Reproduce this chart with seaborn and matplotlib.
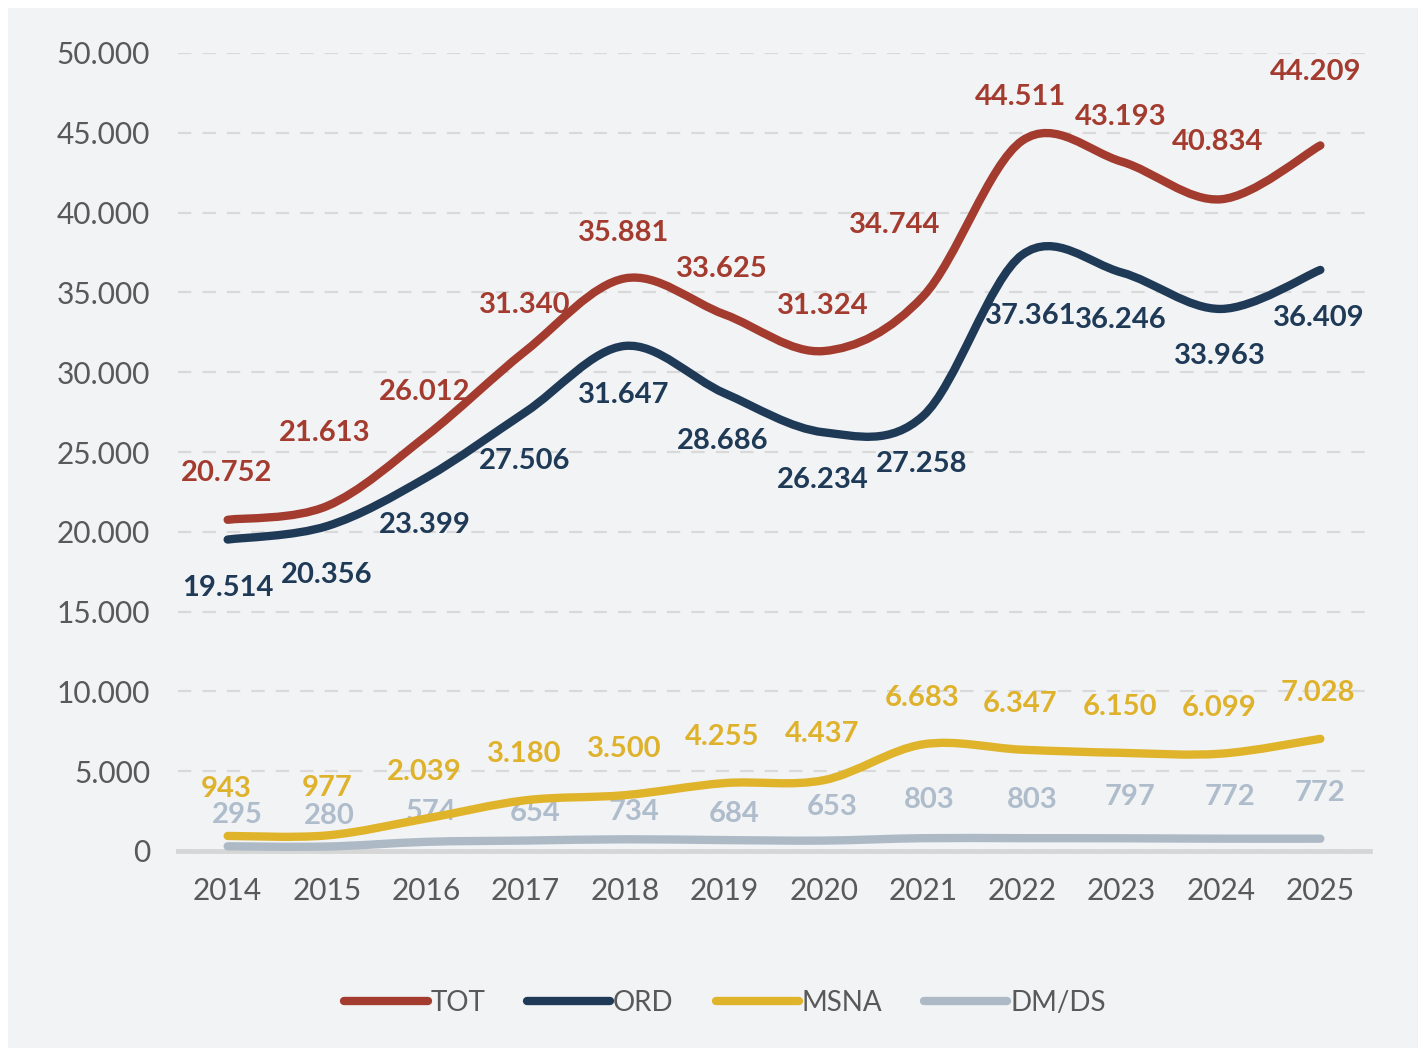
import matplotlib
matplotlib.use("Agg")
import matplotlib.pyplot as plt
import seaborn as sns
from matplotlib.path import Path
from matplotlib.patches import PathPatch, Rectangle
from matplotlib.lines import Line2D

# dati
anni = ['2014', '2015', '2016', '2017', '2018', '2019', '2020', '2021', '2022', '2023', '2024', '2025']
tot = [20752, 21613, 26012, 31340, 35881, 33625, 31324, 34744, 44511, 43193, 40834, 44209]
ord_ = [19514, 20356, 23399, 27506, 31647, 28686, 26234, 27258, 37361, 36246, 33963, 36409]
msna = [943, 977, 2039, 3180, 3500, 4255, 4437, 6683, 6347, 6150, 6099, 7028]
dmds = [295, 280, 574, 654, 734, 684, 653, 803, 803, 797, 772, 772]

serie = ['TOT', 'ORD', 'MSNA', 'DM/DS']
valori = [tot, ord_, msna, dmds]
colori = ['#a33b2f', '#1f3a57', '#e0b42a', '#adbac6']
colori_etichette = ['#a33b2f', '#1f3a57', '#dfb22c', '#aebccb']

# posizione etichette in pixel rispetto al punto (positivo = sopra / a destra)
dy_etichette = [
    [47, 73, 44, 46, 45, 45, 45, 71, 44, 45, 57, 73],
    [-48, -49, -47, -49, -49, -48, -48, -48, -61, -47, -47, -48],
    [47, 47, 46, 46, 46, 46, 46, 46, 46, 46, 46, 46],
    [31, 31, 30, 28, 27, 26, 34, 38, 38, 41, 42, 46],
]
dx_etichette = [
    [-1, -2, -2, -1, -1, -2, -1, -28, -2, -1, -3, -5],
    [0, 0, -2, -1, -1, -2, -1, -1, 8, -1, -1, -2],
    [-1, 0, -2, -1, -1, -2, -2, -1, -2, -2, -2, -2],
    [10, 2, 5, 9, 9, 10, 9, 6, 10, 8, 9, 0],
]

sns.set_theme(style="white")
plt.rcParams['font.family'] = ['Lato', 'DejaVu Sans']

fig = plt.figure(figsize=(14.2, 10.52), dpi=100)
fig.patch.set_facecolor('white')
fig.patches.append(Rectangle((8 / 1420, 4 / 1052), 1410 / 1420, 1040 / 1052,
                             transform=fig.transFigure, facecolor='#f2f3f5',
                             edgecolor='none', zorder=-1))
ax = fig.add_axes([178 / 1420, 201 / 1052, 1192 / 1420, 798 / 1052])
ax.set_facecolor('#f2f3f5')


def curva(xs, ys):
    # curva liscia tipo Excel (Catmull-Rom -> Bezier)
    n = len(xs)
    verts = [(xs[0], ys[0])]
    codes = [Path.MOVETO]
    for i in range(n - 1):
        a = max(i - 1, 0)
        b = min(i + 2, n - 1)
        c1 = (xs[i] + (xs[i + 1] - xs[a]) / 6, ys[i] + (ys[i + 1] - ys[a]) / 6)
        c2 = (xs[i + 1] - (xs[b] - xs[i]) / 6, ys[i + 1] - (ys[b] - ys[i]) / 6)
        verts += [c1, c2, (xs[i + 1], ys[i + 1])]
        codes += [Path.CURVE4] * 3
    return Path(verts, codes)


x = list(range(len(anni)))
for k, (nome, vals, col, col_e) in enumerate(zip(serie, valori, colori, colori_etichette)):
    ax.add_patch(PathPatch(curva(x, vals), facecolor='none', edgecolor=col,
                           lw=6, capstyle='round', joinstyle='round', zorder=3))
    for i, (xi, v) in enumerate(zip(x, vals)):
        etichetta = f"{v:,}".replace(",", ".")
        ax.annotate(etichetta, (xi, v),
                    xytext=(dx_etichette[k][i] * 0.72, dy_etichette[k][i] * 0.72),
                    textcoords='offset points', ha='center', va='center',
                    fontsize=21, fontweight='bold', color=col_e, zorder=2)

ax.set_xlim(-0.5, len(anni) - 0.5)
ax.set_ylim(0, 50000)
ax.set_xticks(x)
ax.set_xticklabels(anni)
ax.set_yticks(range(0, 50001, 5000))
ax.set_yticklabels([f"{v:,}".replace(",", ".") for v in range(0, 50001, 5000)])
ax.tick_params(axis='both', length=0, labelsize=21.5, labelcolor='#595959')
ax.tick_params(axis='y', pad=20)
ax.tick_params(axis='x', pad=19)

ax.grid(axis='y', color='#d9d9d9', lw=1.6, linestyle=(0, (6, 5)))
ax.grid(axis='x', visible=False)
for s in ['top', 'right', 'left']:
    ax.spines[s].set_visible(False)
ax.spines['bottom'].set_color('#d6d6d6')
ax.spines['bottom'].set_linewidth(3.5)

handles = [Line2D([0], [0], color=c, lw=6, solid_capstyle='round') for c in colori]
fig.legend(handles, serie, loc='center', bbox_to_anchor=(725 / 1420, 1 - 1003 / 1052),
           ncol=4, frameon=False, fontsize=20, handlelength=3.0, handletextpad=0.1,
           columnspacing=1.5, labelcolor='#595959')

fig.savefig('out.png', dpi=100, facecolor='white')
